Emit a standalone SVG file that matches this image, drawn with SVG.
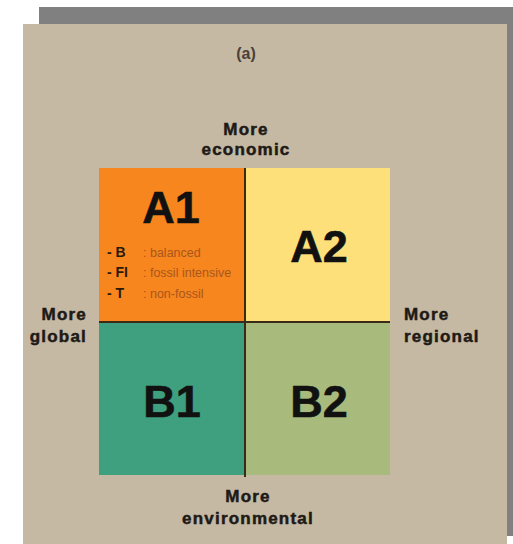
<svg xmlns="http://www.w3.org/2000/svg" width="513" height="544" viewBox="0 0 513 544">
  <style>
    .lbl { font-family: "Liberation Sans", Arial, sans-serif; font-weight: bold; fill: #1e1a16; }
    .axis { font-size: 17px; letter-spacing: 1.2px; stroke: #1e1a16; stroke-width: 0.5px; }
    .big { font-size: 45px; text-anchor: middle; fill: #111; stroke: #111; stroke-width: 0.6px; }
    .key { font-size: 14px; fill: #2a1a0a; }
    .desc { font-family: "Liberation Sans", Arial, sans-serif; font-size: 12.5px; fill: #a8561c; }
    .mid { text-anchor: middle; }
    .end { text-anchor: end; }
  </style>
  <!-- card with drop shadow -->
  <rect x="39" y="7" width="474" height="529" fill="#808080"/>
  <rect x="23" y="24" width="484" height="520" fill="#c5b9a4"/>
  <text x="246" y="59" class="lbl mid" style="font-size:16px;fill:#4a4038">(a)</text>

  <!-- axis labels -->
  <g id="axis-top">
    <text x="246" y="135" class="lbl axis mid">More</text>
    <text x="246" y="155" class="lbl axis mid">economic</text>
  </g>
  <g id="axis-left">
    <text x="87" y="320" class="lbl axis end">More</text>
    <text x="87" y="342" class="lbl axis end">global</text>
  </g>
  <g id="axis-right">
    <text x="404" y="320" class="lbl axis">More</text>
    <text x="404" y="342" class="lbl axis">regional</text>
  </g>
  <g id="axis-bottom">
    <text x="248" y="502" class="lbl axis mid">More</text>
    <text x="248" y="524" class="lbl axis mid">environmental</text>
  </g>

  <!-- quadrants -->
  <g id="A1">
    <rect x="99" y="168" width="146" height="154" fill="#f7861e"/>
    <text x="171" y="223" class="lbl big">A1</text>
    <text x="107" y="257" class="lbl key">- B</text>
    <text x="143" y="257" class="desc">: balanced</text>
    <text x="107" y="277" class="lbl key">- FI</text>
    <text x="143" y="277" class="desc">: fossil intensive</text>
    <text x="107" y="298" class="lbl key">- T</text>
    <text x="143" y="298" class="desc">: non-fossil</text>
  </g>
  <g id="A2">
    <rect x="245" y="168" width="145" height="154" fill="#fde07a"/>
    <text x="319" y="262" class="lbl big">A2</text>
  </g>
  <g id="B1">
    <rect x="99" y="322" width="146" height="153" fill="#3fa07f"/>
    <text x="172" y="417" class="lbl big">B1</text>
  </g>
  <g id="B2">
    <rect x="245" y="322" width="145" height="153" fill="#a8ba7c"/>
    <text x="319" y="417" class="lbl big">B2</text>
  </g>

  <!-- dividing axes -->
  <g id="connectors" stroke="#3a2a18" stroke-width="2">
    <line x1="245" y1="168" x2="245" y2="477"/>
    <line x1="99" y1="322" x2="390" y2="322"/>
  </g>
</svg>
